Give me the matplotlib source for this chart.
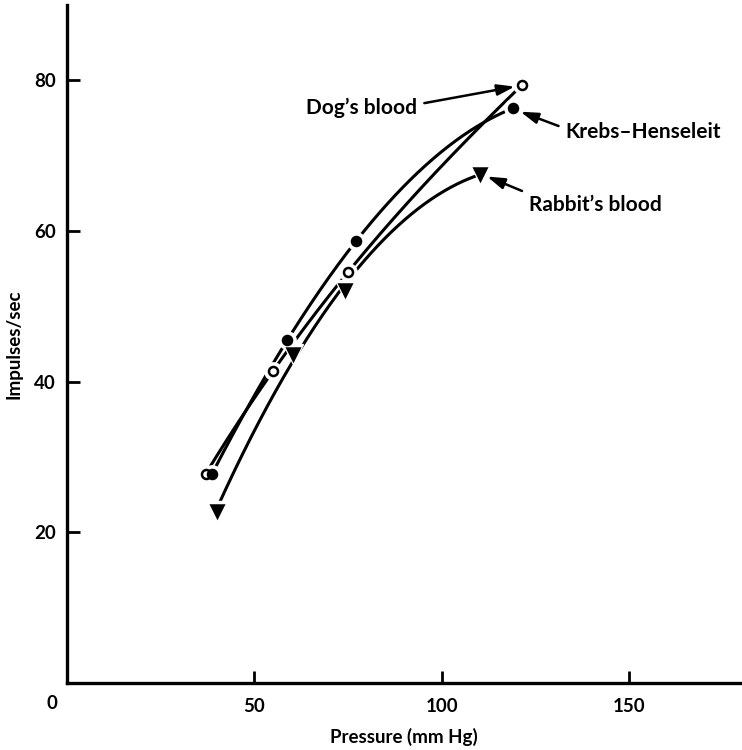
import matplotlib.pyplot as plt
import numpy as np

plt.rcParams['font.family'] = ['Lato', 'DejaVu Sans']

# Valores (pressão em mm Hg, impulsos/s)
dog_x = [37.0, 55.0, 75.1, 121.4]
dog_y = [27.7, 41.4, 54.6, 79.4]

krebs_x = [38.7, 58.8, 77.2, 119.0]
krebs_y = [27.7, 45.5, 58.7, 76.3]

rabbit_x = [40.0, 60.2, 74.3, 110.1]
rabbit_y = [22.8, 43.7, 52.1, 67.6]

x_ticks = [50, 100, 150]
y_ticks = [20, 40, 60, 80]

fig = plt.figure(figsize=(7.42, 7.5), dpi=100)
ax = fig.add_axes([0.0899, 0.0897, 0.9101, 0.9036])
ax.set_xlim(0, 180)
ax.set_ylim(0, 90)

# Curvas suaves através dos pontos (grau 2 no coelho para evitar ondulação)
for xs, ys, mk, face, ms, deg in [(dog_x, dog_y, 'o', 'white', 6.5, 3),
                                  (krebs_x, krebs_y, 'o', 'black', 6.5, 3),
                                  (rabbit_x, rabbit_y, 'v', 'black', 9, 2)]:
    coef = np.polyfit(xs, ys, deg)
    xx = np.linspace(min(xs), max(xs), 200)
    ax.plot(xx, np.polyval(coef, xx), color='black', lw=2.2, zorder=2,
            solid_capstyle='butt')
    # halo branco para abrir o espaço entre linha e marcador
    ax.plot(xs, ys, ls='none', marker=mk, ms=ms + 6, color='white', zorder=3)
    ax.plot(xs, ys, ls='none', marker=mk, ms=ms, mfc=face, mec='black',
            mew=1.8, zorder=4)

# Eixos no estilo da figura original
for s in ['top', 'right']:
    ax.spines[s].set_visible(False)
for s in ['left', 'bottom']:
    ax.spines[s].set_linewidth(2.4)

ax.set_xticks(x_ticks)
ax.set_yticks(y_ticks)
ax.tick_params(direction='in', length=9, width=2, labelsize=13.5)
ax.tick_params(axis='x', pad=11)
ax.tick_params(axis='y', pad=8)
for lab in ax.get_xticklabels() + ax.get_yticklabels():
    lab.set_fontweight('bold')

ax.text(-4, -2.8, '0', ha='center', va='center', fontsize=13.5,
        fontweight='bold', clip_on=False)

ax.set_xlabel('Pressure (mm Hg)', fontsize=13.5, fontweight='bold', labelpad=9)
ax.set_ylabel('Impulses/sec', fontsize=13.5, fontweight='bold', labelpad=8)

arrow = dict(arrowstyle='-|>,head_length=0.7,head_width=0.22', color='black',
             lw=1.8, shrinkA=3, shrinkB=1)

ax.annotate('Dog’s blood', xy=(119.8, 79.2), xytext=(78.7, 76.4),
            ha='center', va='center', fontsize=15, fontweight='bold',
            arrowprops=dict(arrow, relpos=(1.0, 0.65)))
ax.annotate('Krebs–Henseleit', xy=(120.6, 75.9), xytext=(153.6, 73.2),
            ha='center', va='center', fontsize=15, fontweight='bold',
            arrowprops=dict(arrow, relpos=(0.0, 0.65)))
ax.annotate('Rabbit’s blood', xy=(111.7, 67.3), xytext=(140.8, 63.4),
            ha='center', va='center', fontsize=15, fontweight='bold',
            arrowprops=dict(arrow, relpos=(0.03, 1.0)))

plt.savefig('out.png', dpi=100)
